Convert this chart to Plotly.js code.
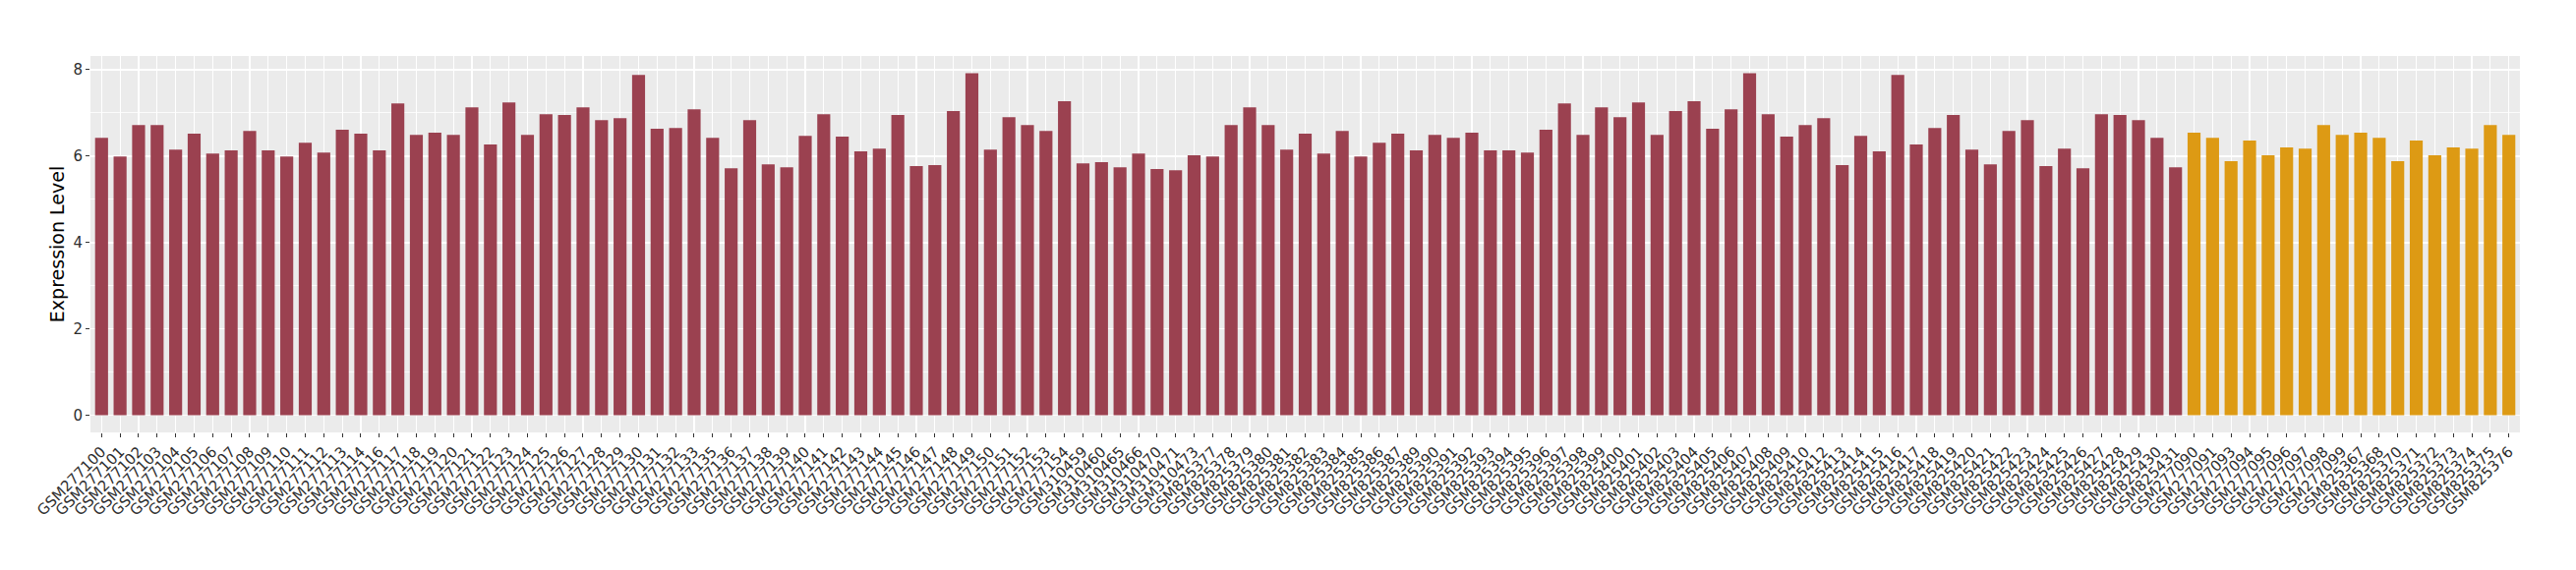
<!DOCTYPE html>
<html>
<head>
<meta charset="utf-8">
<script src="https://cdn.plot.ly/plotly-3.0.1.min.js"></script>
<style>html,body{margin:0;padding:0;background:#fff;}</style>
</head>
<body>
<div id="chart" style="width:2620px;height:580px;"></div>
<script>
// Sample names (x categories), in plotted order
const samples = [
  "GSM277100","GSM277101","GSM277102","GSM277103","GSM277104","GSM277105","GSM277106","GSM277107","GSM277108","GSM277109",
  "GSM277110","GSM277111","GSM277112","GSM277113","GSM277114","GSM277116","GSM277117","GSM277118","GSM277119","GSM277120",
  "GSM277121","GSM277122","GSM277123","GSM277124","GSM277125","GSM277126","GSM277127","GSM277128","GSM277129","GSM277130",
  "GSM277131","GSM277132","GSM277133","GSM277135","GSM277136","GSM277137","GSM277138","GSM277139","GSM277140","GSM277141",
  "GSM277142","GSM277143","GSM277144","GSM277145","GSM277146","GSM277147","GSM277148","GSM277149","GSM277150","GSM277151",
  "GSM277152","GSM277153","GSM277154","GSM310459","GSM310460","GSM310465","GSM310466","GSM310470","GSM310471","GSM310473",
  "GSM825377","GSM825378","GSM825379","GSM825380","GSM825381","GSM825382","GSM825383","GSM825384","GSM825385","GSM825386",
  "GSM825387","GSM825389","GSM825390","GSM825391","GSM825392","GSM825393","GSM825394","GSM825395","GSM825396","GSM825397",
  "GSM825398","GSM825399","GSM825400","GSM825401","GSM825402","GSM825403","GSM825404","GSM825405","GSM825406","GSM825407",
  "GSM825408","GSM825409","GSM825410","GSM825412","GSM825413","GSM825414","GSM825415","GSM825416","GSM825417","GSM825418",
  "GSM825419","GSM825420","GSM825421","GSM825422","GSM825423","GSM825424","GSM825425","GSM825426","GSM825427","GSM825428",
  "GSM825429","GSM825430","GSM825431",
  "GSM277090","GSM277091","GSM277093","GSM277094","GSM277095","GSM277096","GSM277097","GSM277098","GSM277099",
  "GSM825367","GSM825368","GSM825370","GSM825371","GSM825372","GSM825373","GSM825374","GSM825375","GSM825376"
];

// Expression level per sample
const expression = [
  6.42,5.99,6.72,6.72,6.15,6.52,6.06,6.13,6.58,6.13,
  5.99,6.31,6.08,6.61,6.52,6.13,7.22,6.49,6.54,6.49,
  7.13,6.27,7.24,6.49,6.97,6.95,7.13,6.83,6.88,7.88,
  6.63,6.65,7.08,6.42,5.72,6.83,5.81,5.74,6.47,6.97,
  6.45,6.11,6.17,6.95,5.77,5.79,7.04,7.92,6.15,6.90,
  6.72,6.58,7.27,5.83,5.86,5.74,6.06,5.70,5.67,6.02,
  5.99,6.72,7.13,6.72,6.15,6.52,6.06,6.58,5.99,6.31,
  6.52,6.13,6.49,6.42,6.54,6.13,6.13,6.08,6.61,7.22,
  6.49,7.13,6.90,7.24,6.49,7.04,7.27,6.63,7.08,7.92,
  6.97,6.45,6.72,6.88,5.79,6.47,6.11,7.88,6.27,6.65,
  6.95,6.15,5.81,6.58,6.83,5.77,6.17,5.72,6.97,6.95,
  6.83,6.42,5.74,
  6.54,6.42,5.88,6.36,6.02,6.20,6.17,6.72,6.49,
  6.54,6.42,5.88,6.36,6.02,6.20,6.17,6.72,6.49
];

// Group of each sample (113 in group A, 18 in group B)
const groupA = "A", groupB = "B";
const groups = samples.map((s, i) => i < 113 ? groupA : groupB);

const groupColors = { A: "#9B4150", B: "#DD9A14" };

const font = "DejaVu Sans, sans-serif";

const trace = {
  type: "bar",
  x: samples,
  y: expression,
  marker: { color: groups.map(g => groupColors[g]), line: { width: 0 } },
  showlegend: false,
  hoverinfo: "x+y"
};

const layout = {
  width: 2620,
  height: 580,
  margin: { l: 92, r: 57, t: 57, b: 140 },
  paper_bgcolor: "#ffffff",
  plot_bgcolor: "#EBEBEB",
  bargap: 0.3,
  showlegend: false,
  font: { family: font, color: "#333333" },
  xaxis: {
    type: "category",
    range: [-0.6, samples.length - 0.4],
    tickangle: -45,
    tickfont: { family: font, size: 15, color: "#2E2E2E" },
    ticks: "outside",
    ticklen: 4,
    tickwidth: 1,
    tickcolor: "#333333",
    showgrid: true,
    gridcolor: "#FFFFFF",
    gridwidth: 1.1,
    zeroline: false,
    showline: false,
    automargin: false
  },
  yaxis: {
    range: [-0.396, 8.316],
    tickvals: [0, 2, 4, 6, 8],
    ticktext: ["0", "2", "4", "6", "8"],
    tickfont: { family: font, size: 15, color: "#2E2E2E" },
    ticks: "outside",
    ticklen: 4,
    tickwidth: 1,
    tickcolor: "#333333",
    showgrid: true,
    gridcolor: "#FFFFFF",
    gridwidth: 1.6,
    minor: { tickvals: [1, 3, 5, 7], showgrid: true, gridcolor: "#FFFFFF", gridwidth: 0.8, ticks: "" },
    zeroline: false,
    showline: false,
    automargin: false,
    title: { text: "Expression Level", font: { family: font, size: 19, color: "#000000" }, standoff: 3 }
  }
};

Plotly.newPlot("chart", [trace], layout, { displayModeBar: false, staticPlot: true });
</script>
</body>
</html>
